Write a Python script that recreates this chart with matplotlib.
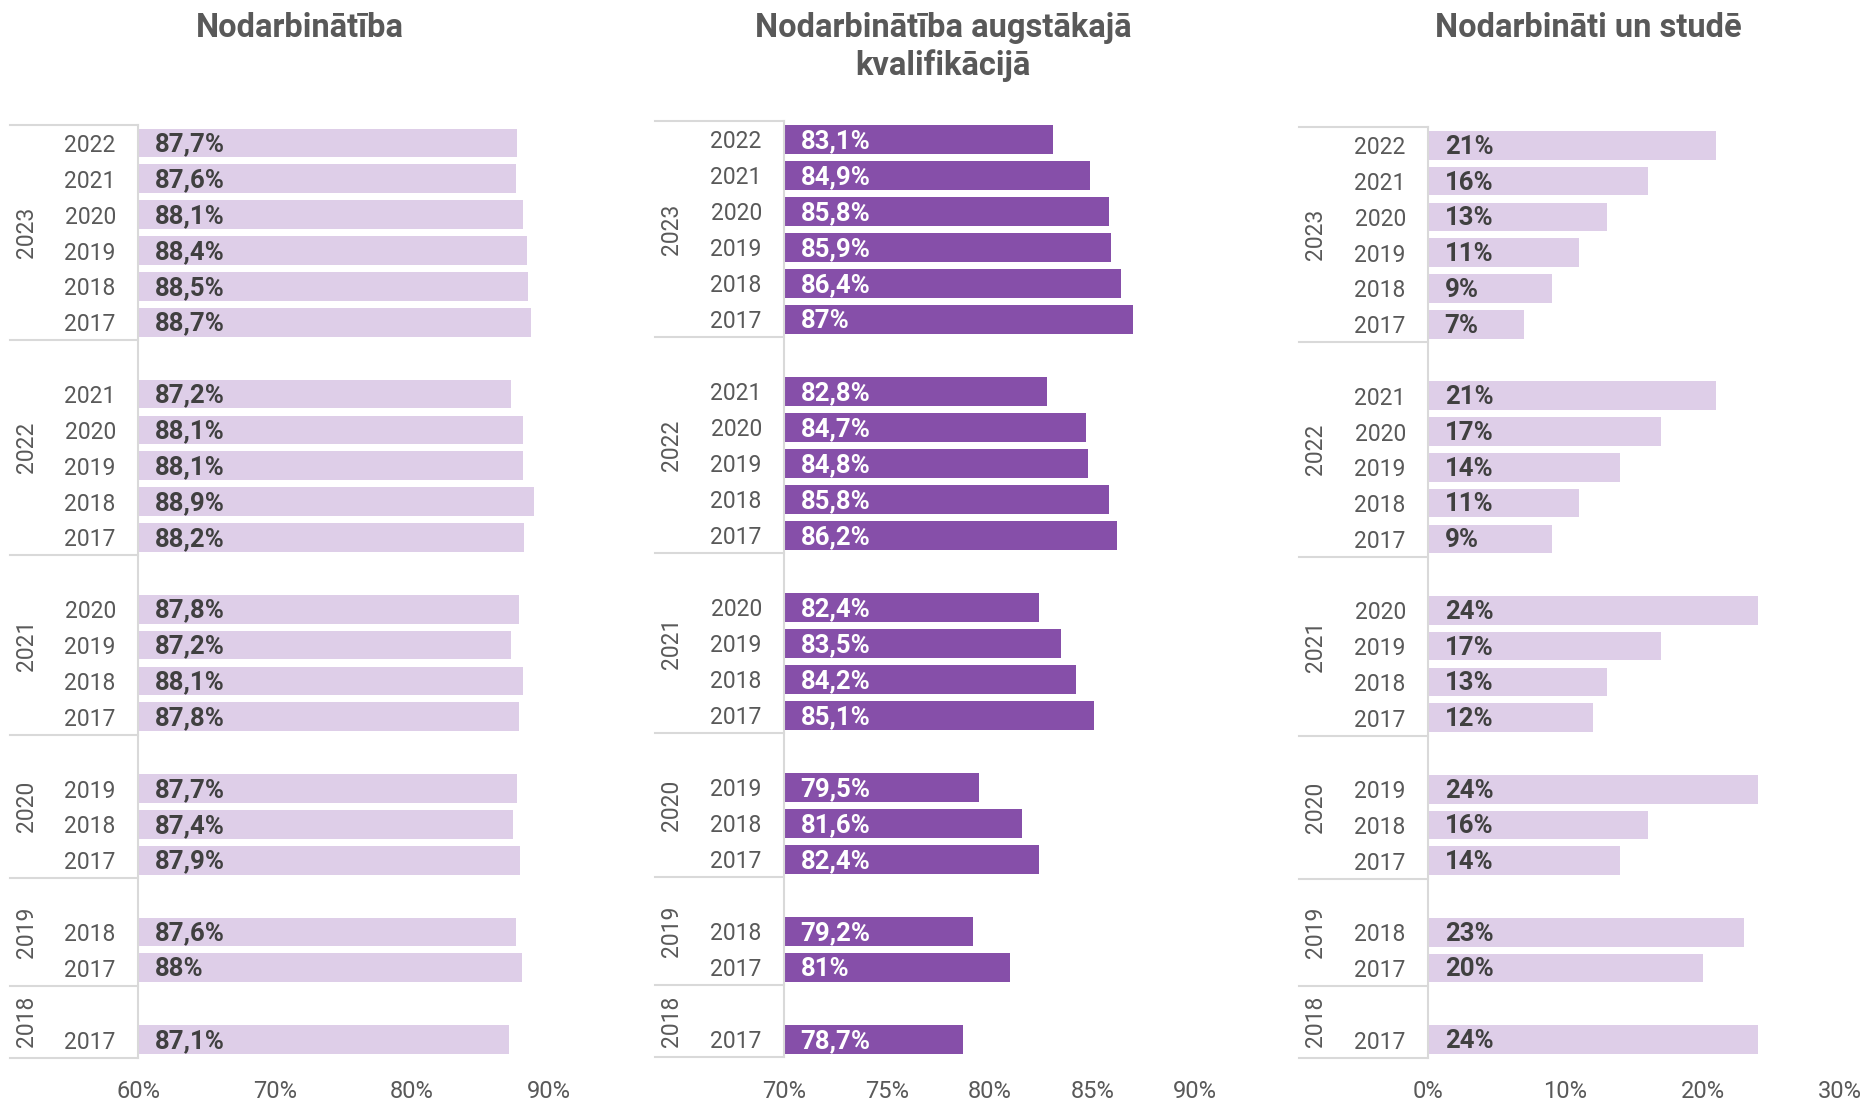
import matplotlib
matplotlib.use("Agg")
import matplotlib.pyplot as plt
from matplotlib.transforms import blended_transform_factory

plt.rcParams['font.family'] = ['Roboto', 'DejaVu Sans']

# outer groups (survey year) and inner categories (graduation year)
groups = ['2023', '2022', '2021', '2020', '2019', '2018']
sub_years = [
    ['2022', '2021', '2020', '2019', '2018', '2017'],
    ['2021', '2020', '2019', '2018', '2017'],
    ['2020', '2019', '2018', '2017'],
    ['2019', '2018', '2017'],
    ['2018', '2017'],
    ['2017'],
]

employment = [
    [87.7, 87.6, 88.1, 88.4, 88.5, 88.7],
    [87.2, 88.1, 88.1, 88.9, 88.2],
    [87.8, 87.2, 88.1, 87.8],
    [87.7, 87.4, 87.9],
    [87.6, 88.0],
    [87.1],
]
employment_qual = [
    [83.1, 84.9, 85.8, 85.9, 86.4, 87.0],
    [82.8, 84.7, 84.8, 85.8, 86.2],
    [82.4, 83.5, 84.2, 85.1],
    [79.5, 81.6, 82.4],
    [79.2, 81.0],
    [78.7],
]
work_study = [
    [21, 16, 13, 11, 9, 7],
    [21, 17, 14, 11, 9],
    [24, 17, 13, 12],
    [24, 16, 14],
    [23, 20],
    [24],
]

titles = ['Nodarbinātība', 'Nodarbinātība augstākajā\nkvalifikācijā', 'Nodarbināti un studē']
xlims = [(60, 90), (70, 90), (0, 30)]
xticks = [[60, 70, 80, 90], [70, 75, 80, 85, 90], [0, 10, 20, 30]]

W, H = 1865, 1100
LIGHT = '#DECEE8'
DARK = '#864FA9'
GRID = '#D9D9D9'
TXT = '#595959'

# panel geometry in pixels: label area left, axis left, axis right, top line, bottom line, title x
panels = [
    dict(left=10, x0=138, x1=549, top=125, bottom=1057.5, tx=300),
    dict(left=655, x0=784, x1=1195, top=121.5, bottom=1057.5, tx=943),
    dict(left=1299, x0=1428, x1=1840, top=127.5, bottom=1057.5, tx=1588),
]
series = [employment, employment_qual, work_study]
bar_colors = [LIGHT, DARK, LIGHT]
label_colors = ['#404040', 'white', '#404040']


def fmt(v):
    return f"{v:g}".replace('.', ',') + '%'


fig = plt.figure(figsize=(W / 100, H / 100), dpi=100)

for p, vals, bc, lc, title, xl, xt in zip(panels, series, bar_colors, label_colors,
                                           titles, xlims, xticks):
    ax = fig.add_axes([p['x0'] / W, 1 - p['bottom'] / H,
                       (p['x1'] - p['x0']) / W, (p['bottom'] - p['top']) / H])

    rows, labels, values, bounds = [], [], [], [-0.5]
    r = 0
    for gi, (subs, gv) in enumerate(zip(sub_years, vals)):
        if gi > 0:
            r += 1  # spacer row at top of group
        for s, v in zip(subs, gv):
            rows.append(r)
            labels.append(s)
            values.append(v)
            r += 1
        bounds.append(r - 0.5)

    ax.barh(rows, [v - xl[0] for v in values], left=xl[0], height=0.8, color=bc)
    for y, v in zip(rows, values):
        ax.annotate(fmt(v), (xl[0], y), xytext=(12, -1), textcoords='offset points',
                    va='center', ha='left', fontsize=18.5, fontweight='bold', color=lc)

    ax.set_xlim(*xl)
    ax.set_ylim(bounds[-1], bounds[0])
    ax.set_yticks(rows)
    ax.set_yticklabels(labels)
    ax.set_xticks(xt)
    ax.set_xticklabels([f"{t}%" for t in xt])
    ax.tick_params(axis='y', length=0, pad=16, labelsize=16.5, labelcolor=TXT)
    ax.tick_params(axis='x', length=0, pad=16, labelsize=17, labelcolor=TXT)
    for side in ['top', 'right', 'bottom']:
        ax.spines[side].set_visible(False)
    ax.spines['left'].set_color(GRID)
    ax.spines['left'].set_linewidth(1.5)

    # hierarchy lines and outer group labels
    trans = blended_transform_factory(fig.transFigure, ax.transData)
    for b in bounds:
        ax.plot([p['left'] / W, p['x0'] / W], [b, b], color=GRID, lw=1.5,
                transform=trans, clip_on=False)
    cx = (p['left'] + 17) / W
    for g, a, b in zip(groups, bounds[:-1], bounds[1:]):
        ax.text(cx, (a + b) / 2, g, rotation=90, ha='center', va='center',
                fontsize=16.5, color=TXT, transform=trans)

    fig.text(p['tx'] / W, 1 - 12 / H, title, ha='center', va='top', fontsize=23.5,
             fontweight='bold', color=TXT, linespacing=1.2)

fig.savefig('out.png', dpi=100)
